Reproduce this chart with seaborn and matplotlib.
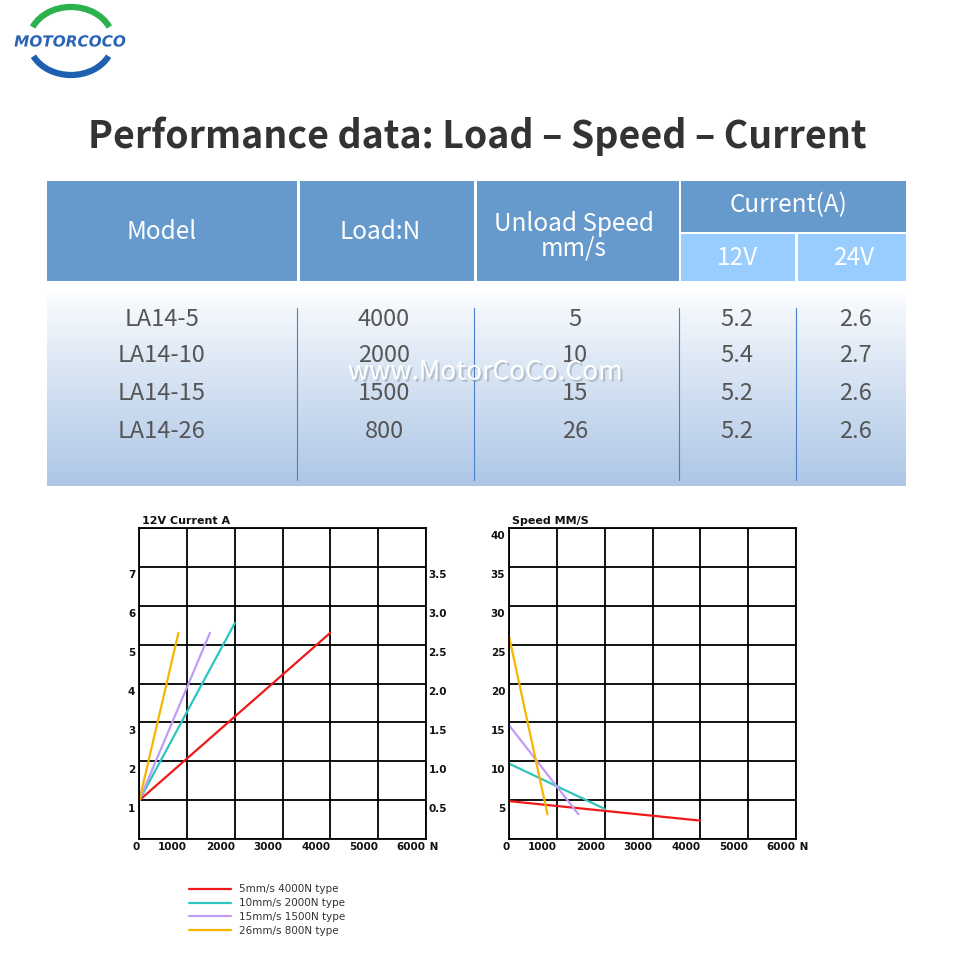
import numpy as np
import pandas as pd
import seaborn as sns
import matplotlib.pyplot as plt
import matplotlib.patches as mpatches
import matplotlib.patheffects as pe
import matplotlib.transforms as mtrans

# Data
models = ["LA14-5", "LA14-10", "LA14-15", "LA14-26"]
loads = ["4000", "2000", "1500", "800"]
unload_speed = ["5", "10", "15", "26"]
current_12v = ["5.2", "5.4", "5.2", "5.2"]
current_24v = ["2.6", "2.7", "2.6", "2.6"]

types = ["5mm/s 4000N type", "10mm/s 2000N type",
         "15mm/s 1500N type", "26mm/s 800N type"]
colors = ["#f01818", "#2ec4c0", "#c09cf5", "#f7b500"]

# current chart (load N -> current A), lines go from start to end
cur_start_load = [0, 0, 0, 0]
cur_start_val = [1.0, 1.0, 1.0, 1.0]
cur_end_load = [4000, 2000, 1480, 820]
cur_end_val = [5.3, 5.55, 5.3, 5.3]

# speed chart (load N -> speed mm/s)
spd_start_load = [0, 0, 0, 0]
spd_start_val = [4.9, 9.7, 14.6, 25.9]
spd_end_load = [4000, 2000, 1450, 800]
spd_end_val = [2.4, 3.9, 3.2, 3.2]

cur_left_ticks = [1, 2, 3, 4, 5, 6, 7]
cur_right_ticks = ["0.5", "1.0", "1.5", "2.0", "2.5", "3.0", "3.5"]
spd_ticks = [5, 10, 15, 20, 25, 30, 35, 40]
load_ticks = [0, 1000, 2000, 3000, 4000, 5000, 6000]

cur_df = pd.DataFrame({
    "type": types * 2,
    "load": cur_start_load + cur_end_load,
    "val": cur_start_val + cur_end_val,
})
spd_df = pd.DataFrame({
    "type": types * 2,
    "load": spd_start_load + spd_end_load,
    "val": spd_start_val + spd_end_val,
})
palette = dict(zip(types, colors))

sns.set_theme(style="white")
plt.rcParams['font.family'] = ['DejaVu Sans']

fig = plt.figure(figsize=(9.59, 9.60), dpi=100)
fig.patch.set_facecolor("white")

# background axes in pixel units
bg = fig.add_axes([0, 0, 1, 1])
bg.set_xlim(0, 959)
bg.set_ylim(960, 0)
bg.axis("off")

CJK = ['Noto Sans CJK SC', 'DejaVu Sans']

# Logo (y axis is flipped, so angles run clockwise on screen)
bg.add_patch(mpatches.Arc((71, 41), 84, 68, theta1=200, theta2=340,
                          color="#2bb24c", lw=4.5))
bg.add_patch(mpatches.Arc((71, 41), 84, 68, theta1=22, theta2=158,
                          color="#1f5fb0", lw=4.5))
bg.text(70, 42, "MOTORCOCO", ha="center", va="center", fontsize=11,
        fontweight="bold", fontstyle="italic", color="#2b63b5",
        path_effects=[pe.withStroke(linewidth=2.5, foreground="white")])

# Title
bg.text(477, 136, "Performance data: Load – Speed – Current", ha="center",
        va="center", fontsize=27, fontweight="bold", color="#333333",
        family=CJK)

# Table header
hdr = "#6699cc"
sub = "#99ccff"
for x0, x1, y0, y1, c in [(47, 297, 181, 281, hdr), (300, 474, 181, 281, hdr),
                          (477, 679, 181, 281, hdr), (681, 906, 181, 232, hdr),
                          (681, 795, 234, 281, sub), (798, 906, 234, 281, sub)]:
    bg.add_patch(mpatches.Rectangle((x0, y0), x1 - x0, y1 - y0, color=c, lw=0))

hkw = dict(ha="center", va="center", color="white", fontsize=17.5, family=CJK)
bg.text(162, 232, "Model", **hkw)
bg.text(380, 232, "Load:N", **hkw)
bg.text(574, 224, "Unload Speed", **hkw)
bg.text(574, 248, "mm/s", **hkw)
bg.text(789, 205, "Current(A)", **hkw)
bg.text(737, 258, "12V", **hkw)
bg.text(855, 258, "24V", **hkw)

# Table body gradient
grad = np.linspace(0, 1, 200).reshape(-1, 1)
top = np.array([0.99, 0.995, 1.0])
bot = np.array([0.68, 0.78, 0.90])
img = top + (bot - top) * grad[..., None] ** 0.9
bg.imshow(img, extent=[47, 906, 486, 292], aspect="auto", zorder=0.5)
for x in [297, 474, 679, 796]:
    bg.plot([x, x], [308, 480], color="#4a7fcf", lw=0.8, zorder=1)

row_y = [320, 356, 393, 431]
col_x = [162, 384, 575, 737, 855]
bkw = dict(ha="center", va="center", color="#555555", fontsize=17, family=CJK,
           zorder=2)
for i, y in enumerate(row_y):
    for x, col in zip(col_x, [models, loads, unload_speed, current_12v, current_24v]):
        bg.text(x, y, col[i], **bkw)

bg.text(485, 372, "www.MotorCoCo.Com", ha="center", va="center", fontsize=19,
        color="white", family=CJK, zorder=3,
        path_effects=[pe.SimplePatchShadow(offset=(1.5, -1.5),
                                           shadow_rgbFace="#8090a0", alpha=0.45),
                      pe.Normal()])

# Charts
W = 286.4 / 959
H = 311.6 / 960
B = 1 - 839.3 / 960
ax1 = fig.add_axes([139.3 / 959, B, W, H])
ax2 = fig.add_axes([509.3 / 959, B, W, H])

down = mtrans.ScaledTranslation(0, -0.075, fig.dpi_scale_trans)
tick_font = dict(fontsize=7.5, fontweight="bold", color="#111111")

for ax, df, ymax, ystep in [(ax1, cur_df, 8, 1), (ax2, spd_df, 40, 5)]:
    sns.lineplot(data=df, x="load", y="val", hue="type", palette=palette,
                 hue_order=types, lw=1.6, ax=ax, legend=(ax is ax1))
    ax.set_xlim(0, 6000)
    ax.set_ylim(0, ymax)
    ax.set_xticks(load_ticks)
    ax.set_xticklabels([str(t) for t in load_ticks], ha="right", **tick_font)
    ax.set_yticks(np.arange(0, ymax + ystep, ystep))
    ax.grid(True, color="black", lw=1.3)
    for s in ax.spines.values():
        s.set_color("black")
        s.set_linewidth(1.3)
    ax.tick_params(axis="x", length=0, pad=2)
    ax.tick_params(axis="y", length=0, pad=3)
    ax.set_xlabel("")
    ax.set_ylabel("")
    ax.text(6000, 0, " N", ha="left", va="top", transform=ax.transData +
            mtrans.ScaledTranslation(0, -0.03, fig.dpi_scale_trans), **tick_font)

ax1.set_yticklabels([""] + [str(t) for t in cur_left_ticks] + [""], **tick_font)
ax2.set_yticklabels([""] + [str(t) for t in spd_ticks], **tick_font)
for ax in (ax1, ax2):
    for lab in ax.get_yticklabels():
        lab.set_transform(lab.get_transform() + down)

axr = ax1.twinx()
axr.set_ylim(0, 4)
axr.set_yticks(np.arange(0.5, 4.0, 0.5))
axr.set_yticklabels(cur_right_ticks, **tick_font)
axr.tick_params(axis="y", length=0, pad=2)
axr.grid(False)
for s in axr.spines.values():
    s.set_visible(False)
for lab in axr.get_yticklabels():
    lab.set_transform(lab.get_transform() + down)

ax1.text(0.01, 1.004, "12V Current A", transform=ax1.transAxes, ha="left",
         va="bottom", fontsize=8, fontweight="bold", color="#111111")
ax2.text(0.01, 1.004, "Speed MM/S", transform=ax2.transAxes, ha="left",
         va="bottom", fontsize=8, fontweight="bold", color="#111111")

# Legend
handles, labels = ax1.get_legend_handles_labels()
ax1.get_legend().remove()
fig.legend(handles, labels, loc="upper left",
           bbox_to_anchor=(184 / 959, 1 - 879 / 960), frameon=False,
           fontsize=7.5, handlelength=4.0, handletextpad=0.8, labelspacing=0.38,
           borderpad=0, labelcolor="#333333")

fig.savefig("out.png", dpi=100)
